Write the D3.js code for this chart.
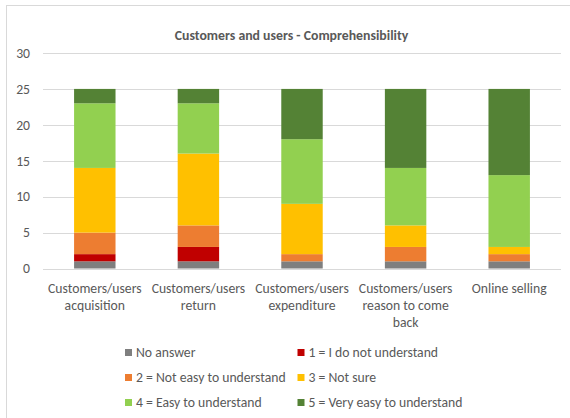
<!DOCTYPE html>
<html>
<head>
<meta charset="utf-8">
<script src="https://cdn.jsdelivr.net/npm/d3@7"></script>
<style>
  body { margin: 0; background: #fff; }
  svg text { font-family: Carlito, Calibri, "Liberation Sans", sans-serif; fill: #595959; }
</style>
</head>
<body>
<svg id="chart" width="570" height="418"></svg>
<script>
// categories (multi-line labels)
const categories = [
  ["Customers/users", "acquisition"],
  ["Customers/users", "return"],
  ["Customers/users", "expenditure"],
  ["Customers/users", "reason to come", "back"],
  ["Online selling"]
];
const seriesNames = ["No answer", "1 = I do not understand", "2 = Not easy to understand",
                     "3 = Not sure", "4 = Easy to understand", "5 = Very easy to understand"];
const seriesColors = ["#7f7f7f", "#c00000", "#ed7d31", "#ffc000", "#92d050", "#548235"];

// values per series, one per category
const noAnswer  = [1, 1, 1, 1, 1];
const answer1   = [1, 2, 0, 0, 0];
const answer2   = [3, 3, 1, 2, 1];
const answer3   = [9, 10, 7, 3, 1];
const answer4   = [9, 7, 9, 8, 10];
const answer5   = [2, 2, 7, 11, 12];
const yTicks    = [0, 5, 10, 15, 20, 25, 30];

const series = [noAnswer, answer1, answer2, answer3, answer4, answer5];

const svg = d3.select("#chart");

// chart frame
svg.append("rect")
  .attr("x", 6.5).attr("y", 5.5)
  .attr("width", 600).attr("height", 430)
  .attr("fill", "none").attr("stroke", "#d9d9d9");

const x = d3.scaleBand()
  .domain(d3.range(categories.length))
  .range([43, 561])
  .paddingInner(0.6)
  .paddingOuter(0.3);

const y = d3.scaleLinear().domain([0, 30]).range([268.5, 53]);

// gridlines
svg.append("g").selectAll("line")
  .data(yTicks)
  .join("line")
  .attr("x1", 43).attr("x2", 561)
  .attr("y1", d => Math.round(y(d)) + 0.5)
  .attr("y2", d => Math.round(y(d)) + 0.5)
  .attr("stroke", "#d9d9d9");

// y labels
svg.append("g").selectAll("text")
  .data(yTicks)
  .join("text")
  .attr("x", 30)
  .attr("y", d => y(d))
  .attr("dy", "0.35em")
  .attr("text-anchor", "end")
  .attr("font-size", 13.7)
  .text(d => d);

// stack
const rows = categories.map((c, i) => {
  const r = {};
  series.forEach((s, k) => { r[k] = s[i]; });
  return r;
});
const stacked = d3.stack().keys(d3.range(series.length))(rows);

svg.append("g").selectAll("g")
  .data(stacked)
  .join("g")
  .attr("fill", (d, k) => seriesColors[k])
  .selectAll("rect")
  .data(d => d.map((v, i) => ({v, i})))
  .join("rect")
  .attr("x", d => x(d.i))
  .attr("width", x.bandwidth())
  .attr("y", d => y(d.v[1]))
  .attr("height", d => y(d.v[0]) - y(d.v[1]));

// x labels
const xl = svg.append("g").selectAll("text")
  .data(categories)
  .join("text")
  .attr("text-anchor", "middle")
  .attr("font-size", 13.7)
  .attr("x", (d, i) => x(i) + x.bandwidth() / 2)
  .attr("y", 292.5);
xl.selectAll("tspan")
  .data(d => d)
  .join("tspan")
  .attr("x", function() { return this.parentNode.getAttribute("x"); })
  .attr("dy", (d, i) => i === 0 ? 0 : 17)
  .text(d => d);

// title
svg.append("text")
  .attr("x", 291.5).attr("y", 40)
  .attr("text-anchor", "middle")
  .attr("font-size", 13.8)
  .attr("font-weight", "bold")
  .text("Customers and users - Comprehensibility");

// legend
const legend = svg.append("g").selectAll("g")
  .data(seriesNames)
  .join("g")
  .attr("transform", (d, i) => `translate(${i % 2 === 0 ? 125 : 297.5},${352.5 + Math.floor(i / 2) * 25})`);
legend.append("rect")
  .attr("x", 0).attr("y", -3.5)
  .attr("width", 7).attr("height", 7)
  .attr("fill", (d, i) => seriesColors[i]);
legend.append("text")
  .attr("x", 11).attr("dy", "0.35em")
  .attr("font-size", 13.7)
  .text(d => d);
</script>
</body>
</html>
